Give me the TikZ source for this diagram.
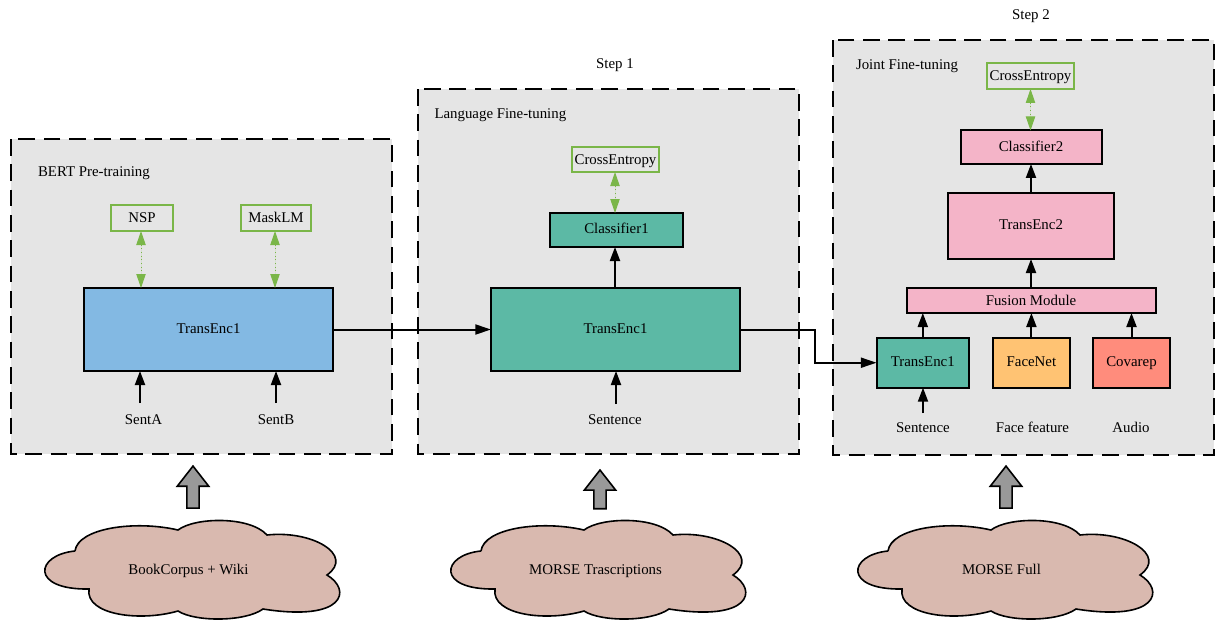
\documentclass[tikz,border=0pt]{standalone}
\usepackage{fontspec}
\setmainfont{Liberation Serif}
\usetikzlibrary{arrows.meta,shapes.arrows}
\definecolor{panelgray}{HTML}{E5E5E5}
\definecolor{lossgreen}{HTML}{7AB648}
\definecolor{bertblue}{HTML}{83B9E3}
\definecolor{langteal}{HTML}{5CB9A5}
\definecolor{jointpink}{HTML}{F4B4C8}
\definecolor{faceorange}{HTML}{FFC373}
\definecolor{audiored}{HTML}{FF8C7C}
\definecolor{cloudrose}{HTML}{D9B9AF}
\definecolor{uparrowgray}{HTML}{999999}
\tikzset{
  boxsize/.style 2 args={minimum width=#1*0.75pt,minimum height=#2*0.75pt},
  txt/.style={inner sep=0pt,outer sep=0pt,font=\fontsize{11.15}{13}\selectfont,text height=7.5pt,text depth=2.5pt},
  lowtxt/.style={txt,text depth=0.5pt},
  stagebox/.style={draw=black,line width=1.5pt,fill=panelgray,dash pattern=on 12.5pt off 6.5pt,line join=miter},
  modbox/.style={txt,text depth=1.8pt,draw=black,line width=1.5pt},
  lossbox/.style={lowtxt,draw=lossgreen,line width=1.5pt},
  flow/.style={-{Triangle[length=10.5pt,width=7.5pt]},line width=1.5pt},
  longflow/.style={-{Triangle[length=11.8pt,width=7.5pt]},line width=1.5pt},
  lossflow/.style={{Triangle[length=10.5pt,width=7pt]}-{Triangle[length=10.5pt,width=7pt]},draw=lossgreen,fill=lossgreen,dotted,line width=0.75pt},
  bigarrow/.style={single arrow,draw=black,fill=uparrowgray,line width=1.2pt,shape border rotate=90,
    inner sep=4pt,single arrow head extend=7.2pt,single arrow tip angle=76,single arrow head indent=0pt,minimum height=31.5pt,outer sep=0pt},
  datacloud/.pic={
    \draw[fill=cloudrose,line width=1.2pt](75,551) .. controls (78,528) and (135,520) .. (178,530)
      .. controls (195,517) and (250,516) .. (267,535)
      .. controls (312,530) and (355,555) .. (327,575)
      .. controls (352,590) and (345,622) .. (263,609)
      .. controls (245,622) and (195,622) .. (178,611)
      .. controls (140,622) and (85,615) .. (89,589)
      .. controls (30,590) and (35,555) .. (75,551);
  }
}
\begin{document}
\begin{tikzpicture}[x=0.75pt,y=-0.75pt]
  \useasboundingbox (0,0) rectangle (1217,619);
  % stages
  \draw[stagebox] (11,139) rectangle (392,454);
  \draw[stagebox] (418,89) rectangle (799,454);
  \draw[stagebox] (833,40) rectangle (1214,455);
  \node[txt] (stepone) at (615,65) {Step 1};
  \node[txt] (steptwo) at (1031,16) {Step 2};
  \node[txt,anchor=west] (bertname) at (38,173) {BERT Pre-training};
  \node[txt,anchor=west] (langname) at (434.5,115.5) {Language Fine-tuning};
  \node[txt,anchor=west] (jointname) at (856,66.5) {Joint Fine-tuning};
  % BERT Pre-training
  \node[modbox,fill=bertblue,boxsize={249}{83}] (transA) at (208.5,329.5) {TransEnc1};
  \node[lossbox,boxsize={62}{26}] (nsp) at (142,218) {NSP};
  \node[lossbox,boxsize={70}{26}] (masklm) at (276,218) {MaskLM};
  \node[txt] (sentA) at (143.5,420.7) {SentA};
  \node[txt] (sentB) at (276,420.7) {SentB};
  \coordinate (sentAin) at (140,403);
  \coordinate (sentBin) at (276,403);
  \draw[flow] (sentAin)--(transA.south -| sentAin);
  \draw[flow] (sentBin)--(transA.south -| sentBin);
  \draw[lossflow] (nsp.south -| 141,0)--(transA.north -| 141,0);
  \draw[lossflow] (masklm.south -| 275,0)--(transA.north -| 275,0);
  % Language Fine-tuning
  \node[modbox,fill=langteal,boxsize={249}{83}] (transB) at (615.5,329.5) {TransEnc1};
  \node[modbox,fill=langteal,boxsize={133}{34}] (classA) at (616.5,230) {Classifier1};
  \node[lossbox,boxsize={87}{25}] (crossA) at (615.5,159.5) {CrossEntropy};
  \node[txt] (sentC) at (615,420.7) {Sentence};
  \coordinate (sentCin) at (616,404);
  \draw[flow] (sentCin)--(transB.south -| sentCin);
  \draw[flow] (transB.north -| 615,0)--(classA.south -| 615,0);
  \draw[lossflow] (crossA.south -| 615,0)--(classA.north -| 615,0);
  % Joint Fine-tuning
  \node[modbox,fill=langteal,boxsize={92.5}{50}] (transC) at (922.8,362.7) {TransEnc1};
  \node[modbox,fill=faceorange,boxsize={77.5}{50}] (facenet) at (1031.4,362.7) {FaceNet};
  \node[modbox,fill=audiored,boxsize={77}{50}] (covarep) at (1131.5,362.7) {Covarep};
  \node[modbox,lowtxt,fill=jointpink,boxsize={249}{25}] (fusion) at (1031,300.5) {Fusion Module};
  \node[modbox,fill=jointpink,boxsize={166}{66}] (transD) at (1031,226) {TransEnc2};
  \node[modbox,fill=jointpink,boxsize={141}{33.5}] (classB) at (1031,147.2) {Classifier2};
  \node[lossbox,boxsize={87}{25.5}] (crossB) at (1030.5,76.2) {CrossEntropy};
  \node[txt] (sentD) at (923,429) {Sentence};
  \node[txt] (facefeat) at (1032.5,429) {Face feature};
  \node[txt] (audio) at (1131,429) {Audio};
  \coordinate (sentDin) at (923,413);
  \draw[flow] (sentDin)--(transC.south -| sentDin);
  \draw[flow] (transC.north)--(fusion.south -| transC.north);
  \draw[flow] (facenet.north)--(fusion.south -| facenet.north);
  \draw[flow] (covarep.north)--(fusion.south -| covarep.north);
  \draw[flow] (fusion.north)--(transD.south);
  \draw[flow] (transD.north)--(classB.south);
  \draw[lossflow] (crossB.south)--(classB.north -| crossB.south);
  % between the stages
  \draw[longflow] (transA.east)--(transB.west);
  \draw[longflow] (transB.east)--++(75,0)|-(transC.west);
  % data sources
  \node[bigarrow] (upA) at (193,491) {};
  \node[bigarrow,minimum height=29pt] (upB) at (600,493.3) {};
  \node[bigarrow] (upC) at (1006,491) {};
  \pic at (0,0) {datacloud};
  \pic at (406,0) {datacloud};
  \pic at (813,0) {datacloud};
  \node[txt] (cloudA) at (188.5,570.7) {BookCorpus + Wiki};
  \node[txt] (cloudB) at (595.5,570.7) {MORSE Trascriptions};
  \node[txt] (cloudC) at (1001.5,570.7) {MORSE Full};
\end{tikzpicture}
\end{document}
